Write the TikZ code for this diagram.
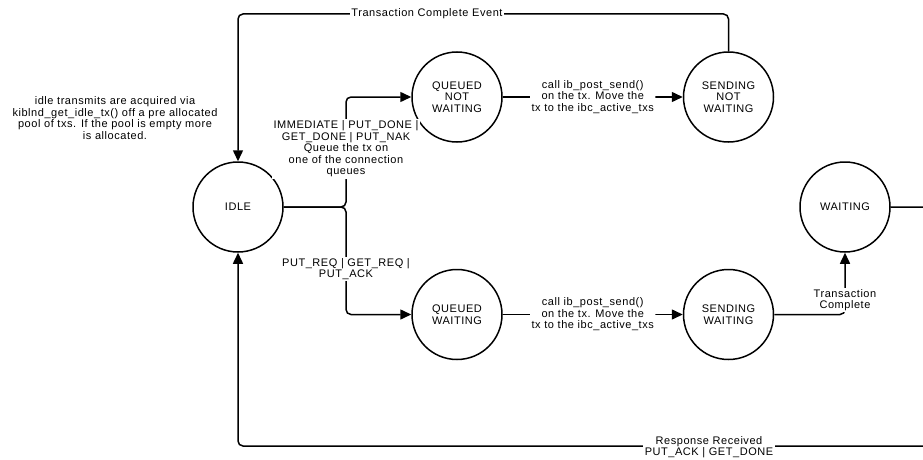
\documentclass[tikz,border=0pt]{standalone}
\usepackage{fontspec}
\setmainfont{Liberation Sans}[LetterSpace=5]
\usetikzlibrary{positioning,calc,arrows.meta}
\tikzset{
	x=1pt, y=-1pt, % one unit is one pixel of the sketch, y runs downwards
	every node/.style={font=\fontsize{11}{11.5}\selectfont, align=center}, % all texts share one size
	thick
}

\begin{document}
\begin{tikzpicture}[node distance = 1.5cm]
	\tikzset{my node/.style = {circle, draw, line width=1.5pt, inner sep=0pt, minimum size=90pt}}
	\tikzset{my edge/.style = {-{Triangle[length=11pt,width=10pt]}, line width=1.5pt, rounded corners=5pt}}
	\tikzset{my label/.style = {fill=white, inner sep=1.5pt}}
	\useasboundingbox (0,0) rectangle (923,460);
	\clip (0,0) rectangle (923,460);
	\node[my node] (idle) at (238,207) {IDLE};
	\node[my node] (qnw) at (457,97) {QUEUED\\NOT\\WAITING};
	\node[my node] (snw) [right=180pt of qnw] {SENDING\\NOT\\WAITING};
	\node[my node] (qw) [below=126pt of qnw] {QUEUED\\WAITING};
	\node[my node] (sw) [below=126pt of snw] {SENDING\\WAITING};
	\node[my node] (wait) at (845,207) {WAITING};
	\node (note) at (115,118) {idle transmits are acquired via\\kiblnd\_get\_idle\_tx() off a pre allocated\\pool of txs. If the pool is empty more\\is allocated.};
	\coordinate (br) at (346,207);
	\coordinate (tp) at (238,14);
	\coordinate (rb) at (940,446);
	\draw[my edge] (idle.east) -- (br) |- (qnw.west);
	\draw[my edge] (idle.east) -- (br) |- (qw.west);
	\draw[my edge] (qnw) -- (snw) node[midway, my label] {call ib\_post\_send()\\on the tx. Move the\\tx to the ibc\_active\_txs};
	\draw[my edge] (qw) -- (sw) node[midway, my label] {call ib\_post\_send()\\on the tx. Move the\\tx to the ibc\_active\_txs};
	\draw[my edge] (snw.north) |- (tp) -- (idle.north);
	\draw[my edge] (sw.east) -| (wait.south);
	\draw[my edge] (wait.east) -| (rb) -| (idle.south);
	\node[my label] (l1) at (346,149) {IMMEDIATE | PUT\_DONE |\\GET\_DONE | PUT\_NAK\\Queue the tx on\\one of the connection\\queues};
	\node[my label] (l2) at (346,269) {PUT\_REQ | GET\_REQ |\\PUT\_ACK};
	\node[my label] (l3) at (427,14) {Transaction Complete Event};
	\node[my label] (l4) at (845,300) {Transaction\\Complete};
	\node[my label] (l5) at (709,447) {Response Received\\PUT\_ACK | GET\_DONE};
\end{tikzpicture}
\end{document}
